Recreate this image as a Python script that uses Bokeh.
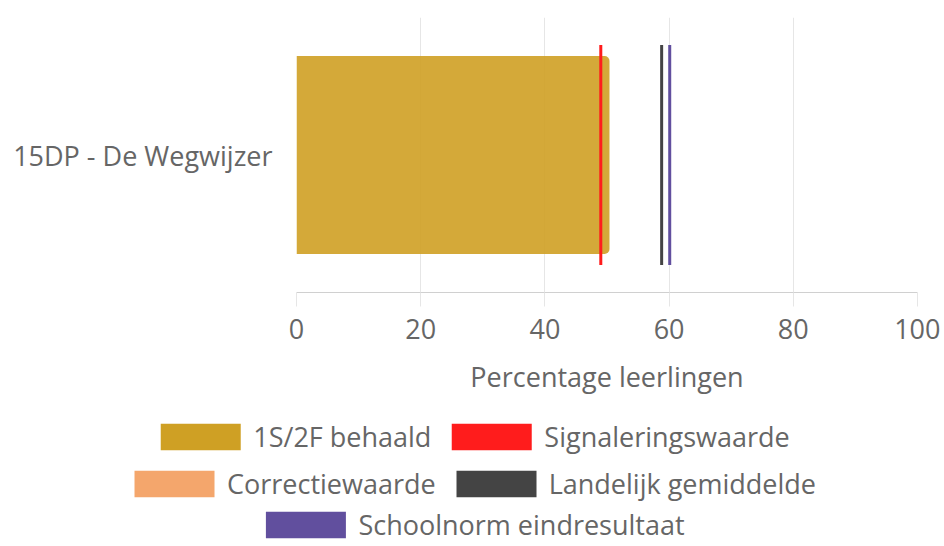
from bokeh.plotting import figure
from bokeh.models import Legend, LegendItem, Range1d, FactorRange, FixedTicker
from bokeh.layouts import column
from bokeh.embed import file_html
from bokeh.resources import INLINE

# ---- data ----
schools = ["15DP - De Wegwijzer"]
behaald = [50.4]
signalering = [49.0]
landelijk = [58.8]
schoolnorm = [60.1]
x_ticks = [0, 20, 40, 60, 80, 100]
x_title = "Percentage leerlingen"
series_names = ["1S/2F behaald", "Signaleringswaarde", "Correctiewaarde",
                "Landelijk gemiddelde", "Schoolnorm eindresultaat"]
series_colors = ["#cfa024", "#ff1c1c", "#f4a66c", "#444444", "#614f9e"]
legend_rows = [[0, 1], [2, 3], [4]]

FONT = "Open Sans"
FS = "27px"
TXT = "#666666"
W = 940

p = figure(y_range=FactorRange(factors=schools), x_range=Range1d(0, 100),
           frame_width=621, frame_height=275,
           min_border_left=296, min_border_right=W - 296 - 621, min_border_top=17,
           min_border_bottom=118, frame_align=False,
           output_backend="svg", toolbar_location=None)
p.outline_line_color = None
p.ygrid.grid_line_color = None
p.xgrid.grid_line_color = "#e6e6e6"
p.xaxis.ticker = FixedTicker(ticks=x_ticks)
p.xaxis.axis_label = x_title
p.xaxis.axis_line_color = "#d0d0d0"
p.xaxis.major_tick_line_color = "#e6e6e6"
p.xaxis.major_tick_out = 14
p.xaxis.major_tick_in = 0
p.xaxis.minor_tick_line_color = None
p.xaxis.major_label_standoff = 12
p.xaxis.axis_label_standoff = 16
p.yaxis.axis_line_color = None
p.yaxis.major_tick_line_color = None
p.yaxis.minor_tick_line_color = None
p.yaxis.major_label_standoff = 18
for ax in (p.xaxis, p.yaxis):
    ax.major_label_text_font = FONT
    ax.major_label_text_font_size = FS
    ax.major_label_text_color = TXT
    ax.axis_label_text_font = FONT
    ax.axis_label_text_font_size = FS
    ax.axis_label_text_color = TXT
    ax.axis_label_text_font_style = "normal"

p.hbar(y=schools, left=0, right=behaald, height=0.72, fill_color=series_colors[0],
       fill_alpha=0.9, line_color=None, border_radius=(0, 5, 5, 0))
p.rect(x=signalering, y=schools, width=3, width_units="screen", height=0.8,
       fill_color=series_colors[1], line_color=None)
p.rect(x=landelijk, y=schools, width=3, width_units="screen", height=0.8,
       fill_color=series_colors[3], line_color=None)
p.rect(x=schoolnorm, y=schools, width=3, width_units="screen", height=0.8,
       fill_color=series_colors[4], line_color=None)


def legend_fig(idx, height, margin):
    f = figure(width=W, height=height, x_range=Range1d(0, 1), y_range=Range1d(0, 1),
               x_axis_location=None, y_axis_location=None, min_border=0,
               frame_align=False, output_backend="svg", toolbar_location=None)
    f.outline_line_color = None
    f.grid.visible = False
    items = []
    for i in idx:
        # legend-only swatch renderer, kept outside the visible range
        r = f.rect(x=[-5], y=[-5], width=1, height=1, fill_color=series_colors[i],
                   line_color=None)
        items.append(LegendItem(label=series_names[i], renderers=[r]))
    leg = Legend(items=items, orientation="horizontal", location="top_center",
                 glyph_width=100, glyph_height=33, label_standoff=3, spacing=10,
                 padding=0, margin=margin, border_line_color=None,
                 background_fill_alpha=0, label_text_font=FONT,
                 label_text_font_size=FS, label_text_color=TXT,
                 label_height=33)
    f.add_layout(leg, "center")
    return f


l1 = legend_fig(legend_rows[0], 47, 8)
l2 = legend_fig(legend_rows[1], 46, 8)
l3 = legend_fig(legend_rows[2], 42, 3)

layout = column(p, l1, l2, l3, spacing=0)
open("out.html", "w").write(file_html(layout, INLINE))
